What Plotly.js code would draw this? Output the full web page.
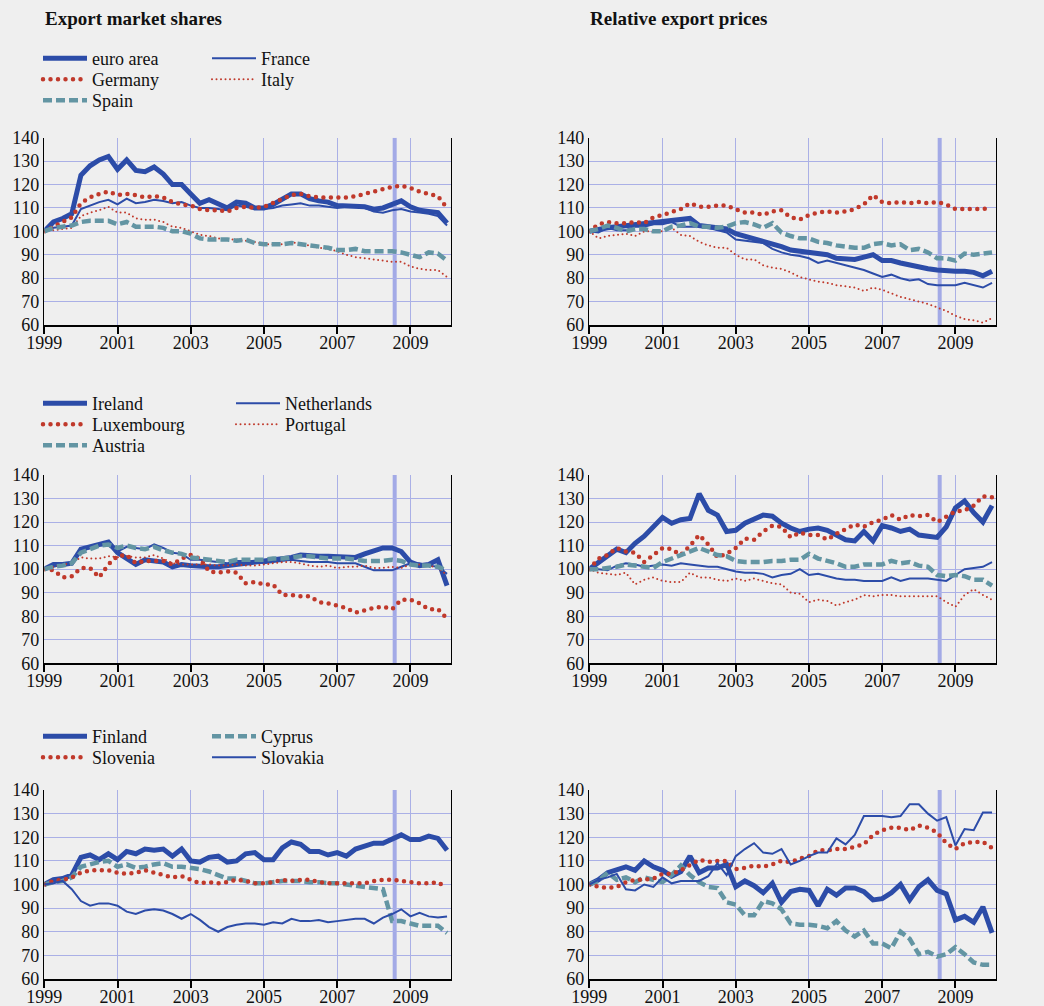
<!DOCTYPE html>
<html><head><meta charset="utf-8">
<script src="https://cdn.plot.ly/plotly-3.0.1.min.js"></script>
<style>
html,body{margin:0;padding:0;background:#efefef;}
#chart{width:1044px;height:1006px;}
path.js-line[style*="dasharray: 0px"]{stroke-linecap:round;}
</style>
</head><body><div id="chart"></div>
<script>
// ---------- axes / categories ----------
const firstYear = 1999;
const nQuarters = 45; // 1999Q1 .. 2010Q1
const quarters = [];
for (let i = 0; i < nQuarters; i++) quarters.push(firstYear + i / 4);
const yearTicks = [1999, 2001, 2003, 2005, 2007, 2009];
const yearLabels = ['1999', '2001', '2003', '2005', '2007', '2009'];
const valueTicks = [60, 70, 80, 90, 100, 110, 120, 130, 140];
const markerDate = 2008.57;

const panelTitles = ['Export market shares', 'Relative export prices'];

// ---------- row 1: euro area, France, Germany, Italy, Spain ----------
const row1Names = ['euro area', 'France', 'Germany', 'Italy', 'Spain'];
const emsEuroArea = [100,104,105.5,107.5,124,128,130.5,132,126.5,130.5,126,125.5,127.5,124.5,120,120,116,112,113.5,111.5,110,112.5,112,110,110,111.5,114,116,116,114,113,112.5,111,111,110.5,110.5,109.5,110,111.5,113,110.5,109,108.5,108,103.5];
const emsFrance = [100,101.5,102,102.5,109.5,111,112.5,113.5,111.5,114,112,112.5,113.5,113,112,112.5,111,110,110,109.5,109,111,110.5,109.5,109.5,110,111,111.5,112,111,111,110.5,110,110.5,110.5,110,108.5,108,109,109.5,108.5,108,107.5,106.5,102.5];
const emsGermany = [100,102,104,106,112,114.5,116,117,115.5,116,115.5,114.5,115,114.5,112.5,111.5,111,109.5,109,109,108.5,110,110.5,110,110.5,112,114,115.5,116,115,114.5,114.5,114.5,114.5,115,116,117,118,119,119.5,118.5,117,116,115,110];
const emsItaly = [100,100.5,101,101.5,106.5,108,109,110.5,108,108,105.5,105,105,104,102,101.5,100,98.5,98,97,96.5,96.5,96,95.5,94.5,94.5,94.5,95.5,94.5,94,93,92.5,91.5,90,89,88.5,88,87.5,87,87,85,84,83.5,83.5,80.5];
const emsSpain = [100,101.5,102,102.5,104,104.5,104.5,104.5,103,104,102,102,102,101.5,100,100,99,97,96.5,96.5,96.5,96,96.5,95,94.5,94.5,94.5,95,94.5,94,93.5,93,92,92,92.5,91.5,91.5,91.5,91.5,91,90,89,91,90.5,87.5];

const repEuroArea = [100,101,101.5,102,102.5,102.5,103.5,104,104,105,105.3,105.5,102.5,102,101.5,101,99,98,97,95.5,94.5,93.5,92,91.5,91,90,90,88.5,88.5,88,89,90,87.5,87.5,86.5,85.5,85,84,83.5,83,83,83,82.5,81,83];
const repFrance = [100,99.5,101.5,100.5,100.5,102,102,103,103,104,102,102,102,101.5,100.5,99.5,96.5,96,95.5,95,92.5,91,90,89.5,88.5,86.5,87.5,86.5,85.5,84.5,83.5,82,80.5,81.5,80,79,79.5,77.5,77,77,77,78,77,76,78];
const repGermany = [100,103,104,103.5,103.5,104,103.5,106,107,108.5,109.5,112,110.5,110.5,111,111,109.5,108,108,107,108.5,109,106,105,107,108,108.5,108,108.5,109.5,111.5,115.5,112.5,112,112.5,112,112.5,112,112.5,111.5,109.5,109.5,109.5,109.5,110];
const repItaly = [100,97,98,98.5,99,98,100,100,100,101.5,98.5,98,95.5,94,93,93,90,88,88,85.5,84.5,84,82.5,80.5,79.5,78.5,78,77,76.5,76,74.5,76,75,73.5,72,71,70,69,67.5,66,64,62.5,62,61,63];
const repSpain = [100,101,102.5,101.5,100,101,101,100,100,102,102.5,103.5,102,102,101.5,102,103.5,104,103,101.5,103.5,99.5,98,97,97,95.5,95,94,93.5,93,93,94.5,95,94,94.5,92,92.5,91,88.5,88.5,87.5,90.5,90,90.5,91];

// ---------- row 2: Ireland, Netherlands, Luxembourg, Portugal, Austria ----------
const row2Names = ['Ireland', 'Netherlands', 'Luxembourg', 'Portugal', 'Austria'];
const emsIreland = [100,102,102,102.5,108.5,109.5,110.5,111.5,107,104.5,102,104,103.5,103,101,102,101.5,101,101,101,101.5,102,102.5,102.5,103,103.5,104,105,106,105.5,105.5,105.5,105.5,105,105,106.5,108,109,109,107.5,103,101.5,102,104,93];
const emsNetherlands = [100,101,102,102,107.5,109,110,110,107.5,109.5,109,108.5,110.5,109,107,106.5,104,104,103.5,103,102.5,103.5,103.5,103,102.5,103,103.5,104,103.5,103,103,103,102.5,102.5,102.5,101,99.5,99.5,99.5,101,102.5,102.5,101.5,101,98];
const emsLuxembourg = [100,99.5,96.5,97,100.5,100.5,96.5,102,105.5,106,102.5,103.5,103.5,103.5,102,104.5,106,104.5,99,98.5,99,98.5,94,94.5,93.5,93.5,89,89,88.5,88.5,86,85.5,84.5,83.5,81.5,82.5,83.5,84,83,87,87,85.5,83,83,79];
const emsPortugal = [100,101,102,102.5,105,104.5,104.5,105.5,105,105.5,105,105,106,104.5,102.5,102,102,102,102,101.5,101.5,102,101.5,101.5,102,102.5,103,103,102.5,101.5,101,101.5,100.5,101,101,101.5,100.5,100.5,101,100.5,102,102,101.5,100.5,97.5];
const emsAustria = [100,101,101.5,102.5,107,108.5,110,110.5,109,110,109,108.5,109.5,108,107,106.5,105,104.5,104,103.5,103,104,104,104,104,104.5,104.5,105,105.5,105.5,105,104.5,104.5,104.5,104,103.5,103.5,103.5,104,103.5,102,101.5,101.5,101,99.5];

const repIreland = [100,103,106,108.5,107,111,114,118,122,119.5,121,121.5,132,125,123,116,116.5,119.5,121,123,122.5,119.5,117.5,116,117,117.5,116.5,114.5,112.5,112,116,112,118.5,117.5,116,117,114.5,114,113.5,118,126,129,124,120,127];
const repNetherlands = [100,100,99.5,101.5,102.5,102,101,101.5,102,101.5,102.5,102,101.5,101,101,100,99,98.5,98.5,98,96.5,97.5,98,100,97.5,98,97,96,95.5,95.5,95,95,95,96.5,95,96,96,96,95.5,95,97.5,100,100.5,101,103];
const repLuxembourg = [100,104.5,106,109,107.5,107,103,106,109,108.5,106,110,114.5,110.5,105,106.5,109,113,112.5,116,118.5,118,113.5,115.5,114.5,114.5,112.5,115,117,119,118,120,121,123,121,123,122.5,123,120,122,124.5,125,127,131,130.5];
const repPortugal = [100,98.5,98,97.5,98.5,93.5,95.5,96.5,95,94.5,94.5,98.5,96.5,96.5,95.5,95,96,95,96,95,94,93.5,90,89.5,86,87,86.5,84.5,86,87,89,88.5,89,89,88.5,88.5,88.5,88.5,88.5,86,84,89,91.5,89,87];
const repAustria = [100,100,100.5,101,102,101.5,101,100.5,103,104.5,106,108,109,107.5,106,105.5,103.5,103,103,103,103.5,103.5,104,104,106.5,104.5,103.5,102.5,101,101,102,102,102,103.5,102.5,103,101.5,101,97.5,97,97.5,97,95.5,95.5,93];

// ---------- row 3: Finland, Cyprus, Slovenia, Slovakia ----------
const row3Names = ['Finland', 'Cyprus', 'Slovenia', 'Slovakia'];
const emsFinland = [100,102,102.5,104,111.5,112.5,110.5,113,110.5,114,113,115,114.5,115,112,115,110,109.5,111.5,112,109.5,110,113,113.5,110.5,110.5,115.5,118,117,114,114,112.5,113.5,112,115,116.5,117.5,117.5,119.5,121,119,119,120.5,119.5,114.5];
const emsCyprus = [100,101,101.5,103,107.5,108.5,109.5,110,107.5,108.5,107,107.5,108.5,109,107.5,107.5,107,106.5,105.5,104,102.5,102.5,101.5,100.5,100.5,101,101.5,101.5,101.5,101,101,100.5,100.5,100,99.5,99,98.5,98,84.5,84.5,83.5,82.5,82.5,82.5,79.5];
const emsSlovenia = [100,101.5,102,103,105,106,106,106,105,104.5,105,106,105,104,103,103.5,102,100.5,101,100.5,101,102,101.5,100.5,100.5,101,102,101.5,102,102,101,100.5,100.5,100.5,100.5,100.5,101.5,102,102,101.5,101,100.5,100.5,101,98.5];
const emsSlovakia = [100,100.5,101.5,98,93,91,92,92,91,88.5,87.5,89,89.5,89,87.5,85.5,87.5,85,82,80,82,83,83.5,83.5,83,84,83.5,85.5,84.5,84.5,85,84,84.5,85,85.5,85.5,83.5,86,87.5,89.5,86.5,88,86.5,86,86.5];

const repFinland = [100,102,105,106,107.5,106,110,107.5,106,103.5,105.5,112,105,107,107,108.5,99,101.5,99.5,96.5,100.5,92.5,97,98,97.5,91,98,95.5,98.5,98.5,97,93.5,94,96.5,100,93.5,99,102,97.5,96,85,86.5,84,90.5,79.5];
const repCyprus = [100,101.5,105,102,103,101,103,102,101,104,108,104,101,99,98.5,92.5,91.5,87,87,93,92,89.5,83.5,83,83,82.5,81.5,84.5,80.5,78,80.5,75,75,73,80,77,70.5,71.5,69.5,70.5,73.5,70.5,67,66,66];
const repSlovenia = [100,99,98.5,99,101,102,102,102.5,104.5,104.5,106,108,110.5,109.5,110,110,106.5,107,108,107.5,108.5,110,109.5,111,112,114.5,114.5,115,115,116,117,121,123,124,124,123,125,124,122,117.5,115,117.5,118,118,115.5];
const repSlovakia = [100,102,103,104.5,98,97.5,100,99,103,100.5,101.5,101.5,101.5,103.5,109,104,112,115,117.5,113.5,113,115,108.5,110,112,113.5,113.5,119.5,117,121,129,129,129,128.5,129,134,134,130,127,128.5,116.5,123.5,123,130.5,130.5];

// ---------- styles ----------
const FONT = 'Liberation Serif, Times New Roman, serif';
const BLUE = '#2c4ca8', RED = '#c0392b', TEAL = '#6395a3', GRID = '#aab0e6', BG = '#efefef';
const styles = {
  thick:  {color: BLUE, width: 5},
  thin:   {color: BLUE, width: 2},
  dots:   {color: RED, width: 4.5, dash: '0px,7.5px'},
  fine:   {color: RED, width: 2, dash: '0px,4.5px'},
  dashed: {color: TEAL, width: 4.5, dash: '9px,4px'}
};

// legend slot of each series: [column, row] inside the legend block of its panel row
const rows = [
  {names: row1Names, styles: ['thick','thin','dots','fine','dashed'],
   left: [emsEuroArea, emsFrance, emsGermany, emsItaly, emsSpain],
   right: [repEuroArea, repFrance, repGermany, repItaly, repSpain],
   slots: [[0,0],[1,0],[0,1],[1,1],[0,2]], legendTop: 59, col2: 213},
  {names: row2Names, styles: ['thick','thin','dots','fine','dashed'],
   left: [emsIreland, emsNetherlands, emsLuxembourg, emsPortugal, emsAustria],
   right: [repIreland, repNetherlands, repLuxembourg, repPortugal, repAustria],
   slots: [[0,0],[1,0],[0,1],[1,1],[0,2]], legendTop: 404, col2: 237},
  {names: row3Names, styles: ['thick','dashed','dots','thin'],
   left: [emsFinland, emsCyprus, emsSlovenia, emsSlovakia],
   right: [repFinland, repCyprus, repSlovenia, repSlovakia],
   slots: [[0,0],[1,0],[0,1],[1,1]], legendTop: 737, col2: 213}
];

const W = 1044, H = 1006;
const FS = 18;
const layout = {
  width: W, height: H, margin: {l: 0, r: 0, t: 0, b: 0},
  paper_bgcolor: BG, plot_bgcolor: BG,
  font: {family: FONT, size: 17, color: '#111'},
  showlegend: true, shapes: [], annotations: []
};

const traces = [];
let legendCount = 0;
rows.forEach((row, r) => {
  const xl = r * 2 + 1, xr = r * 2 + 2;
  row.names.forEach((nm, k) => {
    const st = styles[row.styles[k]];
    legendCount++;
    const lkey = legendCount === 1 ? 'legend' : 'legend' + legendCount;
    const [col, rr] = row.slots[k];
    const lineStart = col === 0 ? 44 : row.col2;
    const centerY = row.legendTop + rr * 21;
    layout[lkey] = {x: (lineStart - 6) / W, y: 1 - (centerY - 19) / H, xanchor: 'left', yanchor: 'top',
      orientation: 'v', bgcolor: 'rgba(0,0,0,0)', borderwidth: 0, itemwidth: 44,
      font: {family: FONT, size: FS, color: '#111'}, itemclick: false, itemdoubleclick: false};
    traces.push({type: 'scatter', mode: 'lines', name: nm, x: quarters, y: row.left[k],
      xaxis: 'x' + (xl === 1 ? '' : xl), yaxis: 'y' + (xl === 1 ? '' : xl),
      line: Object.assign({}, st), legend: lkey, hoverinfo: 'skip'});
    traces.push({type: 'scatter', mode: 'lines', name: nm, x: quarters, y: row.right[k],
      xaxis: 'x' + xr, yaxis: 'y' + xr, showlegend: false,
      line: Object.assign({}, st), hoverinfo: 'skip'});
  });
});

// ---------- axes ----------
const xDomains = [[44.3 / W, 450.7 / W], [589.3 / W, 995.7 / W]];
const yDomains = [[1 - 325 / H, 1 - 137.7 / H], [1 - 663.3 / H, 1 - 475 / H], [1 - 979 / H, 1 - 790 / H]];
const tickFont = {family: FONT, size: 18, color: '#111'};

for (let p = 1; p <= 6; p++) {
  const r = Math.floor((p - 1) / 2), c = (p - 1) % 2;
  const sfx = p === 1 ? '' : String(p);
  layout['xaxis' + sfx] = {
    domain: xDomains[c], anchor: 'y' + sfx, range: [1999, 2010.1],
    tickvals: yearTicks, ticktext: yearLabels, ticks: 'outside', ticklen: 7, tickwidth: 2, tickcolor: '#000',
    ticklabelstandoff: -6,
    showgrid: true, gridcolor: GRID, gridwidth: 1, zeroline: false,
    showline: true, linecolor: '#000', linewidth: 1.5,
    tickfont: tickFont, fixedrange: true
  };
  layout['yaxis' + sfx] = {
    domain: yDomains[r], anchor: 'x' + sfx, range: [60, 140],
    tickvals: valueTicks, ticks: '', showgrid: true, gridcolor: GRID, gridwidth: 1, zeroline: false,
    showline: true, mirror: true, linecolor: '#000', linewidth: 1.5,
    tickfont: tickFont, fixedrange: true
  };
  layout['yaxis' + (p + 6)] = {
    overlaying: 'y' + sfx, anchor: 'x' + sfx, side: 'right', range: [60, 140],
    tickvals: valueTicks, ticks: '', showgrid: false, zeroline: false, showline: false,
    tickfont: tickFont, fixedrange: true
  };
  layout.shapes.push({type: 'line', xref: 'x' + sfx, yref: 'y' + sfx, x0: markerDate, x1: markerDate,
    y0: 60, y1: 140, line: {color: '#a3aae6', width: 4}, layer: 'below'});
}

// panel titles
layout.annotations.push({text: '<b>' + panelTitles[0] + '</b>', xref: 'paper', yref: 'paper',
  x: 43 / W, y: 1 - 18 / H, xanchor: 'left', yanchor: 'middle', showarrow: false, font: {family: FONT, size: 19, color: '#111'}});
layout.annotations.push({text: '<b>' + panelTitles[1] + '</b>', xref: 'paper', yref: 'paper',
  x: 588 / W, y: 1 - 18 / H, xanchor: 'left', yanchor: 'middle', showarrow: false, font: {family: FONT, size: 19, color: '#111'}});

Plotly.newPlot('chart', traces, layout, {staticPlot: true, displayModeBar: false});
</script>
</body></html>
